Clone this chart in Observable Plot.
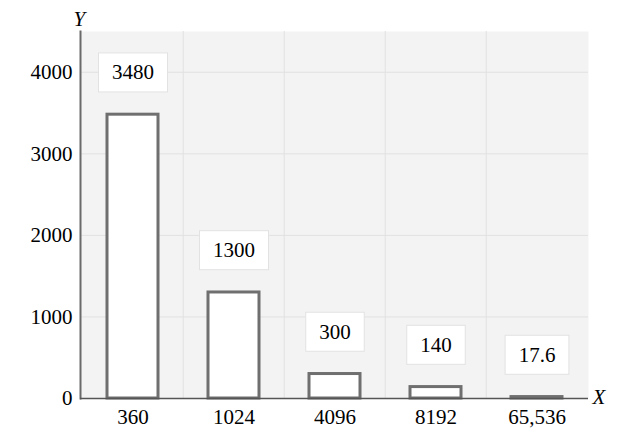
<!DOCTYPE html>
<html>
<head>
<meta charset="utf-8">
<script src="https://cdn.jsdelivr.net/npm/d3@7"></script>
<script src="https://cdn.jsdelivr.net/npm/@observablehq/plot@0.6"></script>
<style>
  html, body { margin: 0; padding: 0; background: #fff; }
  svg, svg text { font-family: "Liberation Serif", "Times New Roman", serif !important; }
</style>
</head>
<body>
<div id="chart"></div>
<script>
const categories = ["360", "1024", "4096", "8192", "65,536"];
const values = [3480, 1300, 300, 140, 17.6];
const valueLabels = ["3480", "1300", "300", "140", "17.6"];
const yTicks = [0, 1000, 2000, 3000, 4000];

const data = categories.map((c, i) => ({cat: c, value: values[i], label: valueLabels[i]}));

const W = 627, H = 434, mL = 80, mR = 39, mT = 31, mB = 36;
const step = (W - mL - mR) / categories.length;
const font = "Liberation Serif";

const chart = Plot.plot({
  width: W, height: H,
  marginLeft: mL, marginRight: mR, marginTop: mT, marginBottom: mB,
  style: {fontFamily: font, fontSize: "21px", color: "#000", background: "#fff", overflow: "visible"},
  x: {domain: categories, paddingInner: 0.5, paddingOuter: 0.25, label: null, tickSize: 0, tickPadding: 11},
  y: {domain: [0, 4500], ticks: yTicks, tickFormat: d => String(d), label: null, tickSize: 0, tickPadding: 8},
  marks: [
    Plot.frame({fill: "#f3f3f3", stroke: null}),
    Plot.gridY(yTicks, {stroke: "#e1e1e1", strokeOpacity: 1, strokeWidth: 1}),
    Plot.ruleX(categories.slice(1), {dx: -step / 2, stroke: "#e1e1e1", strokeWidth: 1}),
    Plot.barY(data, {x: "cat", y: "value", fill: "white", stroke: "#6f6f6f", strokeWidth: 3}),
    Plot.frame({anchor: "left", stroke: "#6a6a6a", strokeWidth: 2}),
    Plot.ruleY([0], {stroke: "#555", strokeWidth: 1.5}),
    Plot.text(data, {x: "cat", y: "value", text: "label", dy: -42, fontSize: 21, fill: "#000", fontFamily: font}),
    Plot.text(["Y"], {frameAnchor: "top-left", text: d => d, dx: -7, dy: -20, fontStyle: "italic", fontSize: 21, fontFamily: font}),
    Plot.text(["X"], {frameAnchor: "bottom-right", text: d => d, textAnchor: "start", dx: 4, dy: 5, fontStyle: "italic", fontSize: 21, fontFamily: font})
  ]
});

document.getElementById("chart").append(chart);

// white boxes behind the value labels
d3.select(chart).selectAll("text")
  .filter(function() { return valueLabels.includes(this.textContent) && this.parentNode.getAttribute("aria-label") === "text"; })
  .each(function() {
    const bb = this.getBBox();
    const padX = 13.5, padY = 7.5;
    const rect = document.createElementNS("http://www.w3.org/2000/svg", "rect");
    rect.setAttribute("x", bb.x - padX);
    rect.setAttribute("y", bb.y - padY);
    rect.setAttribute("width", bb.width + 2 * padX);
    rect.setAttribute("height", bb.height + 2 * padY);
    rect.setAttribute("fill", "#fff");
    rect.setAttribute("stroke", "#e2e2e2");
    rect.setAttribute("stroke-width", 1);
    const t = this.getAttribute("transform");
    if (t) rect.setAttribute("transform", t);
    this.parentNode.insertBefore(rect, this);
  });
</script>
</body>
</html>
